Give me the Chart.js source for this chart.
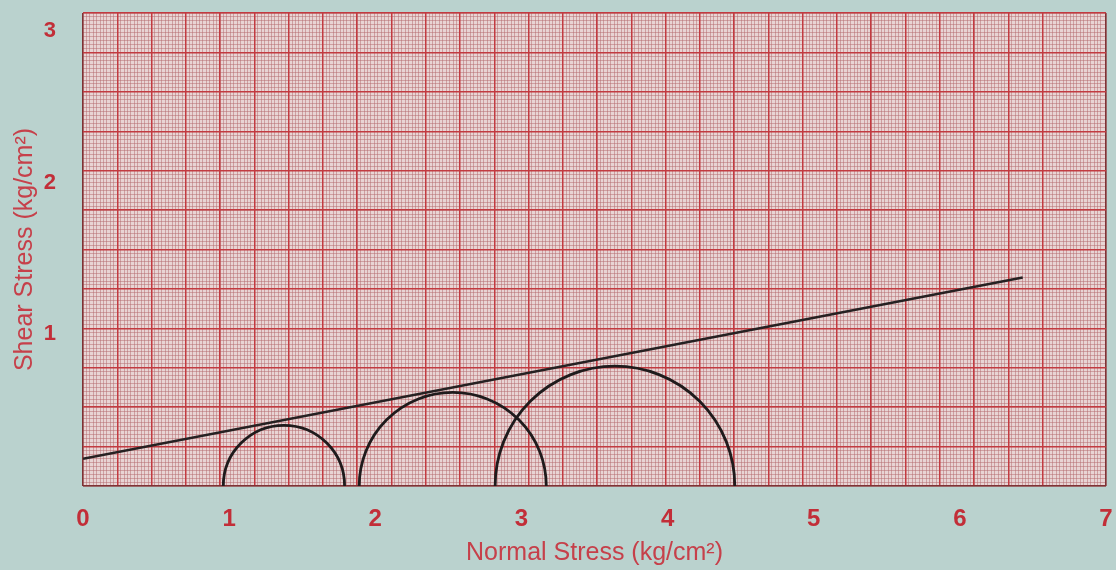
<!DOCTYPE html>
<html>
<head>
<meta charset="utf-8">
<script src="https://cdn.jsdelivr.net/npm/chart.js@4"></script>
<style>
  body { margin: 0; background: #bad2ce; }
  canvas { display: block; }
</style>
</head>
<body>
<canvas id="myChart" width="1116" height="570"></canvas>
<script>
// Mohr circles: minor and major principal stress per test (kg/cm2)
const sigma3 = [0.96, 1.89, 2.82];
const sigma1 = [1.79, 3.17, 4.46];

// failure envelope end points
const envX = [0, 6.43];
const envY = [0.18, 1.375];

const xTicks = [0, 1, 2, 3, 4, 5, 6, 7];
const yTicks = [1, 2, 3];

const labelRed = '#c22e38';
const titleRed = '#c6404a';

// graph paper background inside the plot area
const paperPlugin = {
  id: 'paper',
  beforeDraw(chart) {
    const a = chart.chartArea;
    const c = chart.ctx;
    c.save();
    c.fillStyle = '#e8d4d4';
    c.fillRect(a.left, a.top, a.right - a.left, a.bottom - a.top);
    c.restore();
  }
};

function paperAxis(pos, max, color, width, z, reverse, fit) {
  return {
    type: 'linear',
    position: pos,
    min: 0,
    max: max,
    reverse: reverse,
    ticks: { display: false, stepSize: 1 },
    border: { display: false },
    grid: {
      drawTicks: false,
      color: color,
      lineWidth: width,
      z: z
    },
    afterFit: fit
  };
}

// half the width of circle i in pixels
function circleRadius(c) {
  const sx = c.chart.scales.x;
  const i = c.dataIndex;
  const r = (sx.getPixelForValue(sigma1[i]) - sx.getPixelForValue(sigma3[i])) / 2;
  return isFinite(r) ? r : 0;
}

function initChart(ctx) {
  return new Chart(ctx, {
    type: 'scatter',
    data: {
      datasets: [
        {
          type: 'line',
          label: 'envelope',
          data: envX.map((x, i) => ({ x: x, y: envY[i] })),
          borderColor: '#262122',
          borderWidth: 2.6,
          pointRadius: 0,
          showLine: true,
          xAxisID: 'x',
          yAxisID: 'y'
        },
        {
          type: 'scatter',
          label: 'circles',
          data: sigma3.map((s, i) => ({ x: (s + sigma1[i]) / 2, y: 0 })),
          showLine: false,
          pointStyle: 'circle',
          pointRadius: circleRadius,
          pointHoverRadius: circleRadius,
          pointBackgroundColor: 'rgba(0,0,0,0)',
          pointBorderColor: '#1f1b1c',
          pointBorderWidth: 2.8,
          clip: 0,
          xAxisID: 'x',
          yAxisID: 'y'
        }
      ]
    },
    options: {
      responsive: false,
      animation: false,
      events: [],
      layout: { padding: 0 },
      plugins: {
        legend: { display: false },
        tooltip: { enabled: false }
      },
      scales: {
        gxMinor: paperAxis('top', 298.5, 'rgba(180,105,110,0.5)', 1, -4, false, (s) => { s.height = 13; }),
        gxMajor: paperAxis('top', 29.85, (c) => (c.index === 0 || c.tick.value >= 29.85) ? '#7e3234' : '#c23a40',
          1.5, -2, false, (s) => { s.height = 0; }),
        gyMinor: paperAxis('right', 120, 'rgba(180,105,110,0.5)', 1, -4, true, (s) => { s.width = 10; }),
        gyMajor: paperAxis('right', 12, (c) => (c.index === 0 || c.tick.value >= 12) ? '#7e3234' : '#c23a40',
          1.5, -2, true, (s) => { s.width = 0; }),
        x: {
          type: 'linear',
          position: 'bottom',
          min: 0,
          max: 7,
          grid: { display: false },
          border: { display: false },
          afterBuildTicks: (s) => { s.ticks = xTicks.map(v => ({ value: v })); },
          afterFit: (s) => { s.height = 84; s.paddingLeft = 0; s.paddingRight = 0; },
          ticks: {
            padding: 11,
            color: labelRed,
            font: { family: 'Liberation Sans', size: 24, weight: 'bold' }
          },
          title: {
            display: true,
            text: 'Normal Stress (kg/cm²)',
            color: titleRed,
            padding: { top: 0, bottom: 2 },
            font: { family: 'Liberation Sans', size: 25 }
          }
        },
        y: {
          type: 'linear',
          position: 'left',
          min: 0,
          max: 3.12,
          grid: { display: false },
          border: { display: false },
          afterBuildTicks: (s) => { s.ticks = yTicks.map(v => ({ value: v })); },
          afterFit: (s) => { s.width = 83; s.paddingTop = 0; s.paddingBottom = 0; },
          ticks: {
            padding: 19,
            color: labelRed,
            font: { family: 'Liberation Sans', size: 22, weight: 'bold' }
          },
          title: {
            display: true,
            text: 'Shear Stress (kg/cm²)',
            color: titleRed,
            padding: { top: 10, bottom: 0 },
            font: { family: 'Liberation Sans', size: 25 }
          }
        }
      }
    },
    plugins: [paperPlugin]
  });
}

document.addEventListener('DOMContentLoaded', () => initChart(document.getElementById('myChart')));
</script>
</body>
</html>
